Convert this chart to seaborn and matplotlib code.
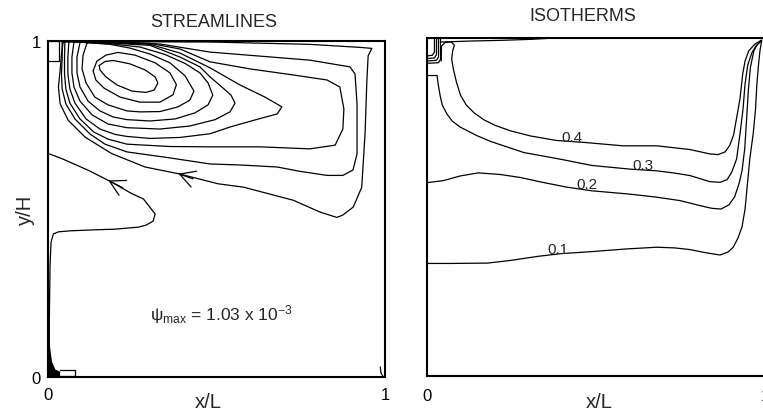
import numpy as np
import pandas as pd
import matplotlib
matplotlib.use("Agg")
import matplotlib.pyplot as plt
import seaborn as sns

sns.set_theme(style="white")
plt.rcParams["font.family"] = ["Liberation Sans", "DejaVu Sans"]
plt.rcParams["mathtext.fontset"] = "custom"
plt.rcParams["mathtext.rm"] = "Liberation Sans"
plt.rcParams["mathtext.it"] = "Liberation Sans"
plt.rcParams["mathtext.bf"] = "Liberation Sans:bold"

# ---------------- streamlines (x/L, y/H), innermost first ----------------
psi1_x = [0.152, 0.169, 0.194, 0.243, 0.288, 0.318, 0.326, 0.315, 0.291, 0.249, 0.205, 0.172, 0.154]
psi1_y = [0.927, 0.939, 0.942, 0.932, 0.914, 0.893, 0.875, 0.854, 0.847, 0.851, 0.869, 0.893, 0.914]

psi2_x = [0.134, 0.145, 0.172, 0.208, 0.258, 0.318, 0.362, 0.381, 0.371, 0.332, 0.273, 0.214, 0.166, 0.142]
psi2_y = [0.911, 0.940, 0.958, 0.966, 0.958, 0.935, 0.905, 0.870, 0.840, 0.818, 0.818, 0.833, 0.860, 0.884]

psi3_x = [0.116, 0.184, 0.243, 0.303, 0.362, 0.407, 0.433, 0.421, 0.386, 0.332, 0.273, 0.234,
          0.178, 0.139, 0.113, 0.101, 0.104]
psi3_y = [0.995, 0.990, 0.979, 0.961, 0.935, 0.896, 0.851, 0.824, 0.804, 0.790, 0.789, 0.792,
          0.810, 0.833, 0.875, 0.917, 0.958]

psi4_x = [0.095, 0.184, 0.273, 0.347, 0.407, 0.451, 0.475, 0.489, 0.475, 0.436, 0.377, 0.303,
          0.234, 0.193, 0.154, 0.119, 0.095, 0.086, 0.086]
psi4_y = [0.996, 0.992, 0.982, 0.960, 0.933, 0.905, 0.875, 0.839, 0.810, 0.786, 0.768, 0.762,
          0.766, 0.774, 0.792, 0.821, 0.863, 0.905, 0.952]

psi5_x = [0.077, 0.184, 0.303, 0.392, 0.451, 0.481, 0.516, 0.543, 0.555, 0.540, 0.496, 0.421,
          0.332, 0.234, 0.178, 0.131, 0.095, 0.077, 0.071, 0.071]
psi5_y = [0.997, 0.994, 0.987, 0.952, 0.923, 0.893, 0.863, 0.839, 0.815, 0.789, 0.766, 0.747,
          0.738, 0.742, 0.753, 0.780, 0.821, 0.863, 0.905, 0.952]

psi6_x = [0.062, 0.184, 0.303, 0.392, 0.481, 0.570, 0.644, 0.694, 0.680, 0.614, 0.540, 0.481,
          0.392, 0.303, 0.234, 0.199, 0.154, 0.113, 0.080, 0.065, 0.059, 0.059]
psi6_y = [0.998, 0.996, 0.990, 0.964, 0.920, 0.869, 0.833, 0.804, 0.783, 0.765, 0.744, 0.724,
          0.713, 0.710, 0.716, 0.722, 0.738, 0.768, 0.815, 0.857, 0.902, 0.952]

psi7_x = [0.050, 0.184, 0.303, 0.392, 0.481, 0.599, 0.727, 0.828, 0.866, 0.878, 0.875, 0.852,
          0.777, 0.629, 0.481, 0.362, 0.234, 0.178, 0.136, 0.095, 0.065, 0.053, 0.049, 0.049]
psi7_y = [0.999, 0.997, 0.993, 0.976, 0.938, 0.917, 0.899, 0.884, 0.863, 0.798, 0.738, 0.690,
          0.679, 0.685, 0.685, 0.686, 0.693, 0.708, 0.729, 0.768, 0.815, 0.857, 0.902, 0.952]

psi8_x = [0.042, 0.184, 0.332, 0.481, 0.629, 0.777, 0.896, 0.911, 0.917, 0.917, 0.905, 0.875,
          0.828, 0.748, 0.680, 0.570, 0.481, 0.362, 0.234, 0.169, 0.125, 0.080, 0.053, 0.042,
          0.040, 0.042]
psi8_y = [0.999, 0.998, 0.991, 0.967, 0.955, 0.943, 0.923, 0.902, 0.813, 0.664, 0.616, 0.600,
          0.600, 0.612, 0.625, 0.631, 0.634, 0.652, 0.670, 0.693, 0.723, 0.768, 0.813, 0.857,
          0.902, 0.946]

psi9_x = [0.045, 0.214, 0.481, 0.777, 0.926, 0.961, 0.950, 0.946, 0.941, 0.931, 0.906, 0.875,
          0.857, 0.807, 0.728, 0.580, 0.505, 0.387, 0.288, 0.189, 0.110, 0.060, 0.036, 0.031,
          0.036, 0.040]
psi9_y = [0.997, 0.998, 0.997, 0.990, 0.981, 0.978, 0.956, 0.877, 0.728, 0.565, 0.506, 0.482,
          0.475, 0.491, 0.526, 0.565, 0.575, 0.605, 0.625, 0.665, 0.714, 0.764, 0.813, 0.863,
          0.913, 0.961]

# open streamline leaving the left wall and returning down along it
psi_wall_x = [0.001, 0.041, 0.120, 0.189, 0.248, 0.283, 0.298, 0.318, 0.312, 0.291, 0.268, 0.199,
              0.139, 0.065, 0.031, 0.016, 0.009, 0.006, 0.004, 0.004]
psi_wall_y = [0.665, 0.650, 0.615, 0.580, 0.546, 0.530, 0.511, 0.485, 0.464, 0.452, 0.446, 0.440,
              0.438, 0.435, 0.432, 0.426, 0.401, 0.331, 0.173, 0.018]

# flow-direction arrowheads (tip and a point just upstream)
arrow_tip_x = [0.387, 0.179]
arrow_tip_y = [0.605, 0.585]
arrow_tail_x = [0.430, 0.222]
arrow_tail_y = [0.590, 0.563]

# inlet / outlet openings
inlet_box_x = [0.0, 0.033, 0.033, 0.0]
inlet_box_y = [1.0, 1.0, 0.940, 0.940]
outlet_box_x = [0.036, 0.080, 0.080, 0.036]
outlet_box_y = [0.004, 0.004, 0.021, 0.021]
corner_fill_x = [0.0, 0.036, 0.036, 0.022, 0.012, 0.006, 0.0]
corner_fill_y = [0.0, 0.0, 0.016, 0.022, 0.045, 0.090, 0.100]
right_corner_x = [0.986, 0.988, 0.993]
right_corner_y = [0.030, 0.012, 0.004]

psi_max_text = r"$\psi_{\mathrm{max}}$ = 1.03 x 10$^{-3}$"

# ---------------- isotherms ----------------
iso_levels = ["0.1", "0.2", "0.3", "0.4"]

iso1_x = [0.000, 0.069, 0.179, 0.248, 0.328, 0.397, 0.487, 0.591, 0.680, 0.733, 0.778, 0.823,
          0.867, 0.891, 0.906, 0.920, 0.932, 0.941, 0.948, 0.955, 0.965, 0.972, 0.976, 0.981,
          0.985, 0.990]
iso1_y = [0.333, 0.333, 0.334, 0.342, 0.354, 0.362, 0.368, 0.376, 0.381, 0.379, 0.374, 0.365,
          0.358, 0.367, 0.381, 0.408, 0.441, 0.494, 0.568, 0.642, 0.716, 0.790, 0.864, 0.923,
          0.962, 0.991]

iso2_x = [0.000, 0.048, 0.099, 0.152, 0.218, 0.278, 0.337, 0.412, 0.487, 0.601, 0.680, 0.748,
          0.808, 0.843, 0.870, 0.893, 0.910, 0.923, 0.932, 0.940, 0.946, 0.951, 0.957, 0.967,
          0.976, 0.990]
iso2_y = [0.572, 0.578, 0.592, 0.601, 0.596, 0.587, 0.574, 0.559, 0.548, 0.538, 0.529, 0.519,
          0.504, 0.496, 0.494, 0.506, 0.530, 0.568, 0.607, 0.672, 0.766, 0.849, 0.914, 0.962,
          0.979, 0.993]

iso3_x = [0.000, 0.030, 0.033, 0.039, 0.045, 0.059, 0.075, 0.099, 0.148, 0.188, 0.233, 0.287,
          0.397, 0.487, 0.601, 0.680, 0.728, 0.778, 0.837, 0.867, 0.888, 0.902, 0.916, 0.926,
          0.935, 0.941, 0.949, 0.961, 0.973, 0.990]
iso3_y = [0.889, 0.889, 0.864, 0.829, 0.802, 0.775, 0.754, 0.736, 0.711, 0.694, 0.679, 0.661,
          0.641, 0.623, 0.612, 0.607, 0.601, 0.593, 0.575, 0.573, 0.581, 0.604, 0.642, 0.716,
          0.790, 0.864, 0.920, 0.956, 0.976, 0.993]

iso4_x = [0.042, 0.043, 0.054, 0.072, 0.081, 0.076, 0.073, 0.078, 0.087, 0.099, 0.116, 0.140,
          0.170, 0.203, 0.248, 0.307, 0.382, 0.466, 0.580, 0.680, 0.778, 0.837, 0.861, 0.882,
          0.896, 0.907, 0.917, 0.926, 0.934, 0.941, 0.952, 0.970, 0.990]
iso4_y = [0.932, 0.976, 0.987, 0.988, 0.979, 0.962, 0.938, 0.908, 0.870, 0.831, 0.802, 0.778,
          0.757, 0.741, 0.725, 0.710, 0.697, 0.691, 0.681, 0.681, 0.670, 0.657, 0.655, 0.663,
          0.683, 0.713, 0.769, 0.820, 0.893, 0.932, 0.962, 0.982, 0.994]

# level label anchors (baseline on the isotherm)
iso_label_x = [0.386, 0.473, 0.639, 0.429]
iso_label_y = [0.364, 0.557, 0.612, 0.694]

# hot-inlet corner isotherms and the thin layer under the top wall
corner_iso_x = [0.022, 0.028, 0.034, 0.040]
corner_iso_y = [0.947, 0.939, 0.932, 0.925]
top_layer_x = [0.039, 0.128, 0.218, 0.307, 0.361]
top_layer_y = [0.988, 0.991, 0.993, 0.996, 0.999]


def frame(xs, ys, closed=True):
    rows = []
    for i, (lx, ly) in enumerate(zip(xs, ys)):
        lx, ly = list(lx), list(ly)
        if closed:
            lx.append(lx[0])
            ly.append(ly[0])
        rows.append(pd.DataFrame({"x": lx, "y": ly, "line": i}))
    return pd.concat(rows, ignore_index=True)


stream_df = frame(
    [psi1_x, psi2_x, psi3_x, psi4_x, psi5_x, psi6_x, psi7_x, psi8_x, psi9_x],
    [psi1_y, psi2_y, psi3_y, psi4_y, psi5_y, psi6_y, psi7_y, psi8_y, psi9_y])
open_df = frame([psi_wall_x, inlet_box_x, outlet_box_x, right_corner_x],
                [psi_wall_y, inlet_box_y, outlet_box_y, right_corner_y], closed=False)
iso_df = frame([iso1_x, iso2_x, iso3_x, iso4_x, top_layer_x],
               [iso1_y, iso2_y, iso3_y, iso4_y, top_layer_y], closed=False)

corner_lines_x, corner_lines_y = [], []
for cx, cy in zip(corner_iso_x, corner_iso_y):
    corner_lines_x.append([cx, cx, cx - 0.006, 0.0])
    corner_lines_y.append([1.0, cy + 0.012, cy + 0.002, cy])
corner_df = frame(corner_lines_x, corner_lines_y, closed=False)

W, H = 763, 414
fig = plt.figure(figsize=(W / 100, H / 100), dpi=100)
ax1 = fig.add_axes([48 / W, 36 / H, 337 / W, 336 / H])
ax2 = fig.add_axes([427 / W, 37 / H, 338 / W, 338 / H])

line_kw = dict(x="x", y="y", units="line", estimator=None, sort=False,
               color="black", linewidth=0.9, legend=False,
               solid_joinstyle="round")

# ---- STREAMLINES ----
sns.lineplot(data=stream_df, ax=ax1, **line_kw)
sns.lineplot(data=open_df, ax=ax1, **line_kw)
ax1.fill(corner_fill_x, corner_fill_y, color="black", lw=0)
for tx, ty, sx, sy in zip(arrow_tip_x, arrow_tip_y, arrow_tail_x, arrow_tail_y):
    ax1.annotate("", xy=(tx, ty), xytext=(sx, sy),
                 arrowprops=dict(arrowstyle="->,head_length=0.9,head_width=0.5",
                                 color="black", lw=0.9, mutation_scale=12,
                                 shrinkA=0, shrinkB=0))
ax1.text(0.513, 0.19, psi_max_text, fontsize=12.5, ha="center", va="center")
ax1.text(0.4926, 1.0595, "STREAMLINES", fontsize=13, ha="center", va="center",
         transform=ax1.transAxes)

# ---- ISOTHERMS ----
sns.lineplot(data=iso_df, ax=ax2, **line_kw)
sns.lineplot(data=corner_df, ax=ax2, **line_kw)
for lab, lx, ly in zip(iso_levels, iso_label_x, iso_label_y):
    ax2.text(lx, ly, lab, fontsize=11, ha="center", va="baseline")
ax2.text(0.461, 1.067, "ISOTHERMS", fontsize=13, ha="center", va="center",
         transform=ax2.transAxes)

for ax in (ax1, ax2):
    ax.set_xlim(0, 1)
    ax.set_ylim(0, 1)
    ax.set_xticks([0, 1])
    ax.set_xticklabels(["0", "1"])
    ax.set_xlabel("x/L", fontsize=14.5)
    for s in ax.spines.values():
        s.set_linewidth(1.5)
        s.set_color("black")
    ax.tick_params(length=0, labelsize=12, colors="black")

ax1.set_yticks([0, 1])
ax1.set_yticklabels(["0", "1"])
ax1.set_ylabel("y/H", fontsize=14.5)
ax1.yaxis.set_label_coords(-0.068, 0.5)
ax1.yaxis.label.set_va("center")
ax1.tick_params(axis="x", pad=7)
ax1.tick_params(axis="y", pad=5)
ax1.xaxis.set_label_coords(0.475, -0.046)
ax2.set_yticks([])
ax2.set_ylabel("")
ax2.tick_params(axis="x", pad=9)
ax2.xaxis.set_label_coords(0.51, -0.048)

fig.savefig("out.png", dpi=100)
